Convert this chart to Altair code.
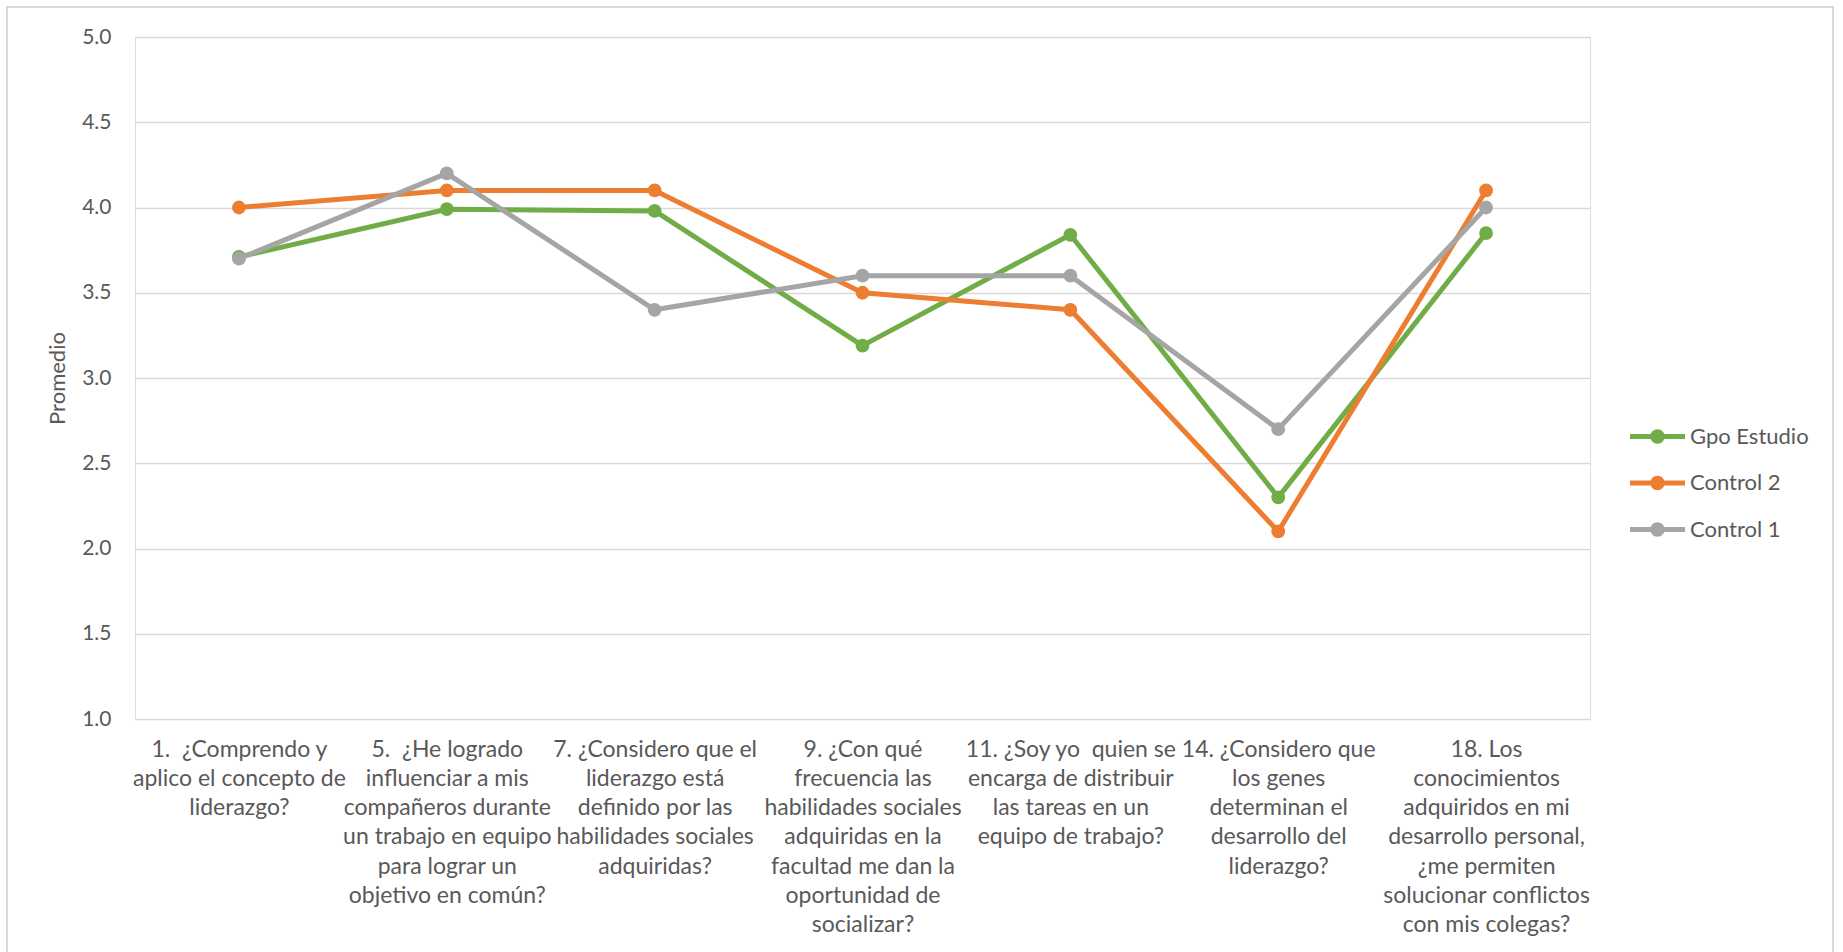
import altair as alt
import pandas as pd

# Survey items (x axis), one line per label row
preguntas = [
    ["1.\u00a0 ¿Comprendo y", "aplico el concepto de", "liderazgo?"],
    ["5.\u00a0 ¿He logrado", "influenciar a mis", "compañeros durante", "un trabajo en equipo", "para lograr un", "objetivo en común?"],
    ["7. ¿Considero que el", "liderazgo está", "definido por las", "habilidades sociales", "adquiridas?"],
    ["9. ¿Con qué", "frecuencia las", "habilidades sociales", "adquiridas en la", "facultad me dan la", "oportunidad de", "socializar?"],
    ["11. ¿Soy yo\u00a0 quien se", "encarga de distribuir", "las tareas en un", "equipo de trabajo?"],
    ["14. ¿Considero que", "los genes", "determinan el", "desarrollo del", "liderazgo?"],
    ["18. Los", "conocimientos", "adquiridos en mi", "desarrollo personal,", "¿me permiten", "solucionar conflictos", "con mis colegas?"],
]
categorias = ["\n".join(p) for p in preguntas]

series = ["Gpo Estudio", "Control 2", "Control 1"]
colores = ["#70AD47", "#ED7D31", "#A5A5A5"]

gpo_estudio = [3.71, 3.99, 3.98, 3.19, 3.84, 2.30, 3.85]
control_2 = [4.0, 4.1, 4.1, 3.5, 3.4, 2.1, 4.1]
control_1 = [3.7, 4.2, 3.4, 3.6, 3.6, 2.7, 4.0]

valores = {"Gpo Estudio": gpo_estudio, "Control 2": control_2, "Control 1": control_1}

filas = []
for s in series:
    for c, v in zip(categorias, valores[s]):
        filas.append({"pregunta": c, "serie": s, "promedio": v})
df = pd.DataFrame(filas)

FONT = "Lato"
GRIS_TEXTO = "#595959"

# legend symbol: a short line with a dot in the middle
simbolo = ("M-2.75,-0.25 L2.75,-0.25 L2.75,0.25 L-2.75,0.25 Z "
           "M-0.72,0 A0.72,0.72 0 1,1 0.72,0 A0.72,0.72 0 1,1 -0.72,0 Z")

x_enc = alt.X(
    "pregunta:N",
    sort=categorias,
    title=None,
    axis=alt.Axis(
        labelExpr="split(datum.label, '\\n')",
        labelAngle=0,
        labelFont=FONT,
        labelFontSize=23,
        labelLineHeight=29.3,
        labelColor=GRIS_TEXTO,
        labelLimit=400,
        labelOverlap=False,
        labelPadding=19,
        ticks=False,
        domain=False,
        grid=False,
    ),
)

y_enc = alt.Y(
    "promedio:Q",
    scale=alt.Scale(domain=[1, 5], nice=False, zero=False),
    title="Promedio",
    axis=alt.Axis(
        values=[1.0, 1.5, 2.0, 2.5, 3.0, 3.5, 4.0, 4.5, 5.0],
        format=".1f",
        labelFont=FONT,
        labelFontSize=21,
        labelColor=GRIS_TEXTO,
        labelPadding=24,
        ticks=False,
        domain=False,
        grid=True,
        gridColor="#D9D9D9",
        gridWidth=1.3,
        titleFont=FONT,
        titleFontSize=22,
        titleFontWeight="normal",
        titleColor=GRIS_TEXTO,
        titleX=-78,
        titleY=341,
        titleAlign="center",
        titleBaseline="middle",
    ),
)

escala = alt.Scale(domain=series, range=colores)

capas = []
for s, col in zip(series, colores):
    base = alt.Chart(df).transform_filter(alt.datum.serie == s)
    linea = base.mark_line(strokeWidth=5, strokeJoin="round", color=col).encode(
        x=x_enc,
        y=y_enc,
    )
    puntos = base.mark_point(filled=True, size=190, opacity=1).encode(
        x=x_enc,
        y=y_enc,
        color=alt.Color(
            "serie:N",
            scale=escala,
            title=None,
            legend=alt.Legend(
                orient="none",
                legendX=1511.5,
                legendY=388.5,
                symbolType=simbolo,
                symbolSize=400,
                symbolStrokeWidth=0,
                symbolOpacity=1,
                labelOffset=21.5,
                rowPadding=24.5,
                padding=0,
                labelFont=FONT,
                labelFontSize=22,
                labelColor=GRIS_TEXTO,
                labelLimit=300,
            ),
        ),
    )
    capas += [linea, puntos]

# outer frame of the chart
marco = alt.Chart(alt.Data(values=[{}])).mark_rect(
    filled=False, stroke="#D9D9D9", strokeWidth=2
).encode(
    x=alt.value(-128), x2=alt.value(1698), y=alt.value(-30), y2=alt.value(1000)
)

chart = alt.layer(marco, *capas).properties(
    width=1455,
    height=682,
    autosize=alt.AutoSizeParams(type="none"),
    padding={"left": 135, "top": 37, "right": 253, "bottom": 233},
).configure_view(stroke=None).configure(background="white")

chart.save("out.html", embed_options={"renderer": "svg", "actions": False})
